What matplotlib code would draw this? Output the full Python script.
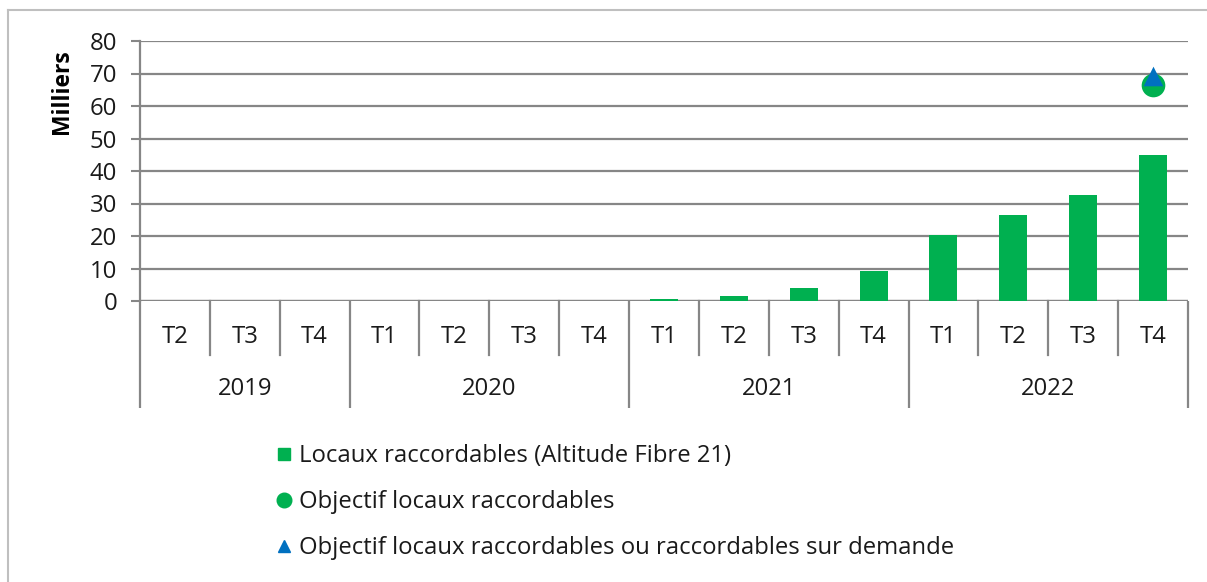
import matplotlib
matplotlib.use("Agg")
import matplotlib.pyplot as plt
from matplotlib.lines import Line2D
import matplotlib.transforms as mtransforms

plt.rcParams['font.family'] = ['Open Sans', 'DejaVu Sans']

# ---- data ----
years = ["2019", "2020", "2021", "2022"]
quarters_per_year = [["T2", "T3", "T4"],
                     ["T1", "T2", "T3", "T4"],
                     ["T1", "T2", "T3", "T4"],
                     ["T1", "T2", "T3", "T4"]]
locaux = [0, 0, 0, 0, 0, 0, 0, 0.6, 1.4, 3.9, 9.2, 20.3, 26.6, 32.7, 45.0]
objectif_raccordables = [None] * 14 + [66.6]
objectif_sur_demande = [None] * 14 + [69.2]

label_bars = "Locaux raccordables (Altitude Fibre 21)"
label_circle = "Objectif locaux raccordables"
label_tri = "Objectif locaux raccordables ou raccordables sur demande"
y_label = "Milliers"
y_ticks = [0, 10, 20, 30, 40, 50, 60, 70, 80]

GREEN = "#00B050"
BLUE = "#0070C0"
GRID = "#868686"
TXT = "#1a1a1a"
FS = 17.2

W, H = 1207, 582
fig = plt.figure(figsize=(W / 100, H / 100), dpi=100)

def fx(px):
    return px / W

def fy(py):
    return 1 - py / H

ax = fig.add_axes([fx(140), fy(301), fx(1188) - fx(140), fy(41) - fy(301)])

quarters = [q for ql in quarters_per_year for q in ql]
x = list(range(len(quarters)))

bars = ax.bar(x, locaux, width=0.40, color=GREEN, zorder=3)

cx = [i for i, v in zip(x, objectif_raccordables) if v is not None]
cy = [v for v in objectif_raccordables if v is not None]
circ = ax.scatter(cx, cy, s=290, marker='o', color=GREEN, zorder=4, linewidths=0)
tx = [i for i, v in zip(x, objectif_sur_demande) if v is not None]
ty = [v for v in objectif_sur_demande if v is not None]
tri = ax.scatter(tx, ty, s=200, marker='^', color=BLUE, zorder=5, linewidths=0)

ax.set_xlim(-0.5, len(quarters) - 0.5)
ax.set_ylim(0, 80)
ax.set_yticks(y_ticks)
ax.set_yticklabels([str(t) for t in y_ticks], fontsize=FS, color=TXT)
ax.tick_params(axis='y', direction='out', length=6.5, width=1.5, color=GRID, pad=10)
ax.yaxis.grid(True, color=GRID, linewidth=1.6, zorder=1)
ax.set_axisbelow(True)

for s in ['top', 'right', 'bottom']:
    ax.spines[s].set_visible(False)
ax.spines['left'].set_color(GRID)
ax.spines['left'].set_linewidth(1.6)
ax.axhline(0, color=GRID, linewidth=1.6, zorder=2)

# multi-level category axis
ax.set_xticks([])
trans = mtransforms.blended_transform_factory(ax.transData, ax.transAxes)
q_bottom = (301 - 355) / 260.0
y_bottom = (301 - 408) / 260.0
q_text = (301 - 337) / 260.0
y_text = (301 - 389) / 260.0

for i, q in enumerate(quarters):
    ax.text(i, q_text, q, transform=trans, ha='center', va='center',
            fontsize=FS, color=TXT)

start = 0
bounds = [-0.5]
for yr, ql in zip(years, quarters_per_year):
    n = len(ql)
    for k in range(1, n):
        xs = start + k - 0.5
        ax.plot([xs, xs], [0, q_bottom], transform=trans, color=GRID,
                linewidth=1.6, clip_on=False)
    ax.text(start + (n - 1) / 2.0, y_text, yr, transform=trans, ha='center',
            va='center', fontsize=FS, color=TXT)
    start += n
    bounds.append(start - 0.5)
for b in bounds:
    ax.plot([b, b], [0, y_bottom], transform=trans, color=GRID,
            linewidth=1.6, clip_on=False, solid_capstyle='butt')

# y label
fig.text(fx(62), fy(92), y_label, rotation=90, ha='center', va='center',
         fontsize=16.5, fontweight='bold', color='black')

# legend
h1 = Line2D([], [], marker='s', linestyle='none', color=GREEN, markersize=9)
h2 = Line2D([], [], marker='o', linestyle='none', color=GREEN, markersize=10.5)
h3 = Line2D([], [], marker='^', linestyle='none', color=BLUE, markersize=9)
leg = fig.legend([h1, h2, h3], [label_bars, label_circle, label_tri],
                 loc='upper left', bbox_to_anchor=(fx(276), fy(444)),
                 frameon=False, fontsize=FS, labelspacing=0.93,
                 handlelength=0.65, handletextpad=0.3, borderaxespad=0,
                 borderpad=0)
for t in leg.get_texts():
    t.set_color(TXT)

# outer border (left and top visible)
fig.add_artist(Line2D([fx(8), fx(8)], [fy(10), 0], color="#BFBFBF", linewidth=1.5))
fig.add_artist(Line2D([fx(8), 1], [fy(10), fy(10)], color="#BFBFBF", linewidth=1.5))

fig.savefig("out.png", dpi=100)
